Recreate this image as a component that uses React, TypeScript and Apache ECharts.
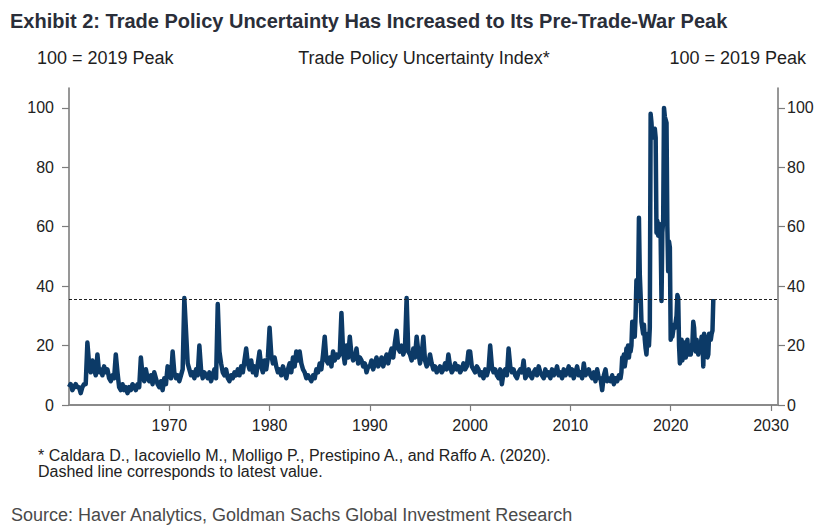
import { useEffect, useRef } from "react";
import * as echarts from "echarts";

// Trade Policy Uncertainty Index (100 = 2019 peak)
// 1960–2014: readings every two months (six per year), starting January of each block
const tpu1960s = [
  6, 7, 5, 6, 7, 6,
  6, 4, 6, 7, 7, 21,
  14, 11, 15, 12, 10, 17,
  11, 12, 10, 13, 11, 12,
  9, 8, 10, 9, 17, 11,
  6, 5, 7, 5, 6, 4,
  6, 5, 7, 6, 5, 7,
  6, 16, 10, 8, 12, 9,
  8, 10, 7, 11, 9, 7,
  6, 8, 5, 9, 7, 13,
];
const tpu1970s = [
  12, 9, 18, 11, 9, 10,
  8, 10, 12, 36, 25, 14,
  12, 10, 11, 9, 12, 10,
  20, 12, 9, 11, 10, 9,
  11, 8, 10, 12, 9, 34,
  18, 14, 11, 10, 12, 9,
  8, 10, 9, 11, 10, 12,
  10, 13, 11, 15, 19, 14,
  12, 15, 11, 13, 10, 14,
  18, 13, 11, 15, 12, 16,
];
const tpu1980s = [
  26, 17, 14, 16, 13, 11,
  12, 10, 13, 11, 9, 12,
  14, 11, 16, 13, 18, 15,
  18, 14, 12, 11, 9, 10,
  9, 8, 10, 9, 12, 11,
  14, 12, 17, 23, 15, 14,
  16, 13, 18, 15, 17, 16,
  17, 31, 18, 14, 20, 16,
  23, 17, 15, 16, 19, 14,
  16, 15, 13, 14, 11, 13,
];
const tpu1990s = [
  13, 15, 12, 14, 16, 13,
  14, 16, 13, 15, 17, 14,
  17, 19, 16, 21, 25, 19,
  18, 20, 17, 19, 36, 18,
  17, 15, 19, 16, 23, 18,
  14, 17, 23, 15, 13, 14,
  17, 14, 12, 13, 11, 12,
  13, 11, 12, 14, 12, 17,
  13, 11, 12, 14, 12, 13,
  11, 12, 14, 12, 13, 18,
];
const tpu2000s = [
  18, 13, 12, 11, 13, 12,
  10, 11, 9, 12, 10, 12,
  20, 13, 11, 12, 10, 9,
  12, 7, 11, 12, 10, 19,
  13, 11, 12, 10, 9, 11,
  12, 11, 15, 9, 10, 12,
  10, 9, 11, 12, 10, 13,
  11, 10, 9, 12, 10, 11,
  9, 12, 10, 11, 13, 10,
  11, 9, 12, 10, 11, 13,
];
const tpu2010to2014 = [
  10, 12, 9, 11, 13, 10,
  11, 9, 14, 10, 11, 12,
  10, 9, 11, 8, 12, 9,
  9, 5, 10, 12, 8, 9,
  8, 10, 7, 9, 8, 10,
];
// From January 2015: monthly readings
const tpuMonthlyFrom2015 = [
  9, 11, 16, 14, 17, 13, 15, 19, 17, 20, 16, 19,
  18, 20, 28, 24, 27, 23, 30, 42, 35, 40, 63, 44,
  37, 28, 26, 24, 27, 22, 19, 17, 22, 24, 20, 26,
  98, 95, 90, 93, 92, 93, 90, 58, 62, 57, 61, 60,
  56, 35, 58, 62, 100, 97, 96, 95, 60, 45, 55, 53,
  22, 24, 23, 25, 27, 26, 28, 30, 37, 36, 20, 14,
  17, 22, 15, 20, 18, 21, 16, 19, 22, 17, 20, 18,
  17, 19, 21, 28, 26, 20, 18, 22, 19, 17, 20, 18,
  20, 23, 22, 13, 24, 22, 23, 21, 16, 17, 24, 22,
  22, 24, 25, 35.7,
];

const yearTicks = [1970, 1980, 1990, 2000, 2010, 2020, 2030];
const valueTicks = [0, 20, 40, 60, 80, 100];

const BODY_FONT = "'Liberation Sans', Arial, sans-serif";

function buildSeries(): [number, number][] {
  const biMonthly = [
    ...tpu1960s,
    ...tpu1970s,
    ...tpu1980s,
    ...tpu1990s,
    ...tpu2000s,
    ...tpu2010to2014,
  ];
  const pts: [number, number][] = biMonthly.map((v, i) => [1960 + i / 6, v]);
  tpuMonthlyFrom2015.forEach((v, j) => pts.push([2015 + j / 12, v]));
  return pts;
}

export default function App() {
  const ref = useRef<HTMLDivElement>(null);

  useEffect(() => {
    if (!ref.current) return;
    const chart = echarts.init(ref.current, undefined, { renderer: "svg" });
    const points = buildSeries();
    const latest = tpuMonthlyFrom2015[tpuMonthlyFrom2015.length - 1];

    const axisGray = "#7d7d7d";
    const yAxisBase = {
      type: "value" as const,
      min: 0,
      max: 106.7,
      splitLine: { show: false },
      axisLine: { show: true, onZero: false, lineStyle: { color: axisGray, width: 1.6 } },
      axisTick: {
        show: true,
        length: 7,
        customValues: valueTicks,
        lineStyle: { color: axisGray, width: 1.2 },
      },
    };
    const tickLabel = {
      customValues: valueTicks,
      fontSize: 16,
      fontFamily: BODY_FONT,
      color: "#222",
    };

    chart.setOption({
      animation: false,
      backgroundColor: "#ffffff",
      grid: { left: 69, right: 43, top: 88, bottom: 122, containLabel: false },
      xAxis: {
        type: "value",
        min: 1960,
        max: 2030.7,
        splitLine: { show: false },
        axisLine: { show: true, lineStyle: { color: "#8a8a8a", width: 2 } },
        axisTick: {
          show: true,
          length: 6,
          customValues: yearTicks,
          lineStyle: { color: axisGray, width: 1.2 },
        },
        axisLabel: {
          customValues: yearTicks,
          margin: 12,
          fontSize: 16,
          fontFamily: BODY_FONT,
          color: "#222",
          formatter: (v: number) => String(v),
        },
      },
      yAxis: [
        { ...yAxisBase, position: "left", axisLabel: { ...tickLabel, margin: 15 } },
        { ...yAxisBase, position: "right", axisLabel: { ...tickLabel, margin: 9 } },
      ],
      series: [
        {
          // dashed reference at the latest reading
          type: "line",
          data: [],
          z: 1,
          markLine: {
            silent: true,
            symbol: "none",
            label: { show: false },
            lineStyle: { color: "#222", width: 1, type: [3, 2] },
            data: [{ yAxis: latest }],
          },
        },
        {
          type: "line",
          data: points,
          z: 2,
          showSymbol: false,
          symbol: "none",
          lineStyle: { color: "#0c3a67", width: 4.5, join: "round" },
        },
      ],
      graphic: [
        {
          type: "text",
          x: 10,
          y: 20.5,
          style: {
            text: "Exhibit 2: Trade Policy Uncertainty Has Increased to Its Pre-Trade-War Peak",
            fontSize: 20,
            fontWeight: "bold",
            fontFamily: BODY_FONT,
            fill: "#2a2e39",
            verticalAlign: "middle",
          },
        },
        {
          type: "text",
          x: 37,
          y: 58,
          style: { text: "100 = 2019 Peak", fontSize: 18, fontFamily: BODY_FONT, fill: "#1e1e1e", verticalAlign: "middle" },
        },
        {
          type: "text",
          x: 424,
          y: 58,
          style: {
            text: "Trade Policy Uncertainty Index*",
            fontSize: 18,
            fontFamily: BODY_FONT,
            fill: "#1e1e1e",
            align: "center",
            verticalAlign: "middle",
          },
        },
        {
          type: "text",
          x: 806,
          y: 58,
          style: {
            text: "100 = 2019 Peak",
            fontSize: 18,
            fontFamily: BODY_FONT,
            fill: "#1e1e1e",
            align: "right",
            verticalAlign: "middle",
          },
        },
        {
          type: "text",
          x: 38,
          y: 455,
          style: {
            text: "* Caldara D., Iacoviello M., Molligo P., Prestipino A., and Raffo A. (2020).",
            fontSize: 16,
            fontFamily: BODY_FONT,
            fill: "#222",
            verticalAlign: "middle",
          },
        },
        {
          type: "text",
          x: 38,
          y: 471,
          style: {
            text: "Dashed line corresponds to latest value.",
            fontSize: 16,
            fontFamily: BODY_FONT,
            fill: "#222",
            verticalAlign: "middle",
          },
        },
        {
          type: "text",
          x: 11,
          y: 515,
          style: {
            text: "Source: Haver Analytics, Goldman Sachs Global Investment Research",
            fontSize: 18,
            fontFamily: BODY_FONT,
            fill: "#4a4a4a",
            verticalAlign: "middle",
          },
        },
      ],
    });

    return () => chart.dispose();
  }, []);

  return (
    <div
      ref={ref}
      style={{ position: "absolute", left: 0, top: 0, width: 821, height: 527, background: "#fff" }}
    />
  );
}
